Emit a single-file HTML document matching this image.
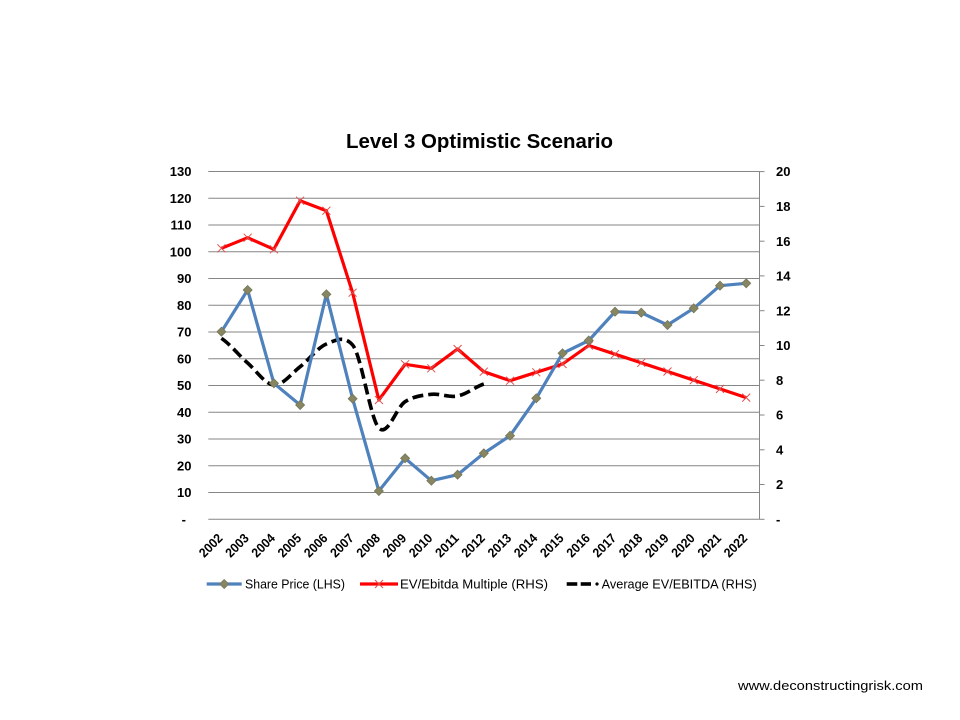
<!DOCTYPE html>
<html>
<head>
<meta charset="utf-8">
<style>
html,body{margin:0;padding:0;background:#fff;}
svg{display:block;}
text{font-family:"Liberation Sans",Arial,sans-serif;fill:#000;}
.ax{font-size:13px;font-weight:bold;}
.xl{font-size:13px;font-weight:bold;}
.lg{font-size:12.5px;}
</style>
</head>
<body>
<svg width="960" height="720" viewBox="0 0 960 720" xmlns="http://www.w3.org/2000/svg">
<rect width="960" height="720" fill="#fff"/>

<!-- Title -->
<text x="346" y="148" font-size="20" font-weight="bold" textLength="267" lengthAdjust="spacingAndGlyphs">Level 3 Optimistic Scenario</text>

<!-- Gridlines -->
<g stroke="#868686" stroke-width="1">
<line x1="208.3" y1="171.55" x2="759.5" y2="171.55"/>
<line x1="208.3" y1="198.3" x2="759.5" y2="198.3"/>
<line x1="208.3" y1="225.05" x2="759.5" y2="225.05"/>
<line x1="208.3" y1="251.8" x2="759.5" y2="251.8"/>
<line x1="208.3" y1="278.55" x2="759.5" y2="278.55"/>
<line x1="208.3" y1="305.3" x2="759.5" y2="305.3"/>
<line x1="208.3" y1="332.05" x2="759.5" y2="332.05"/>
<line x1="208.3" y1="358.8" x2="759.5" y2="358.8"/>
<line x1="208.3" y1="385.55" x2="759.5" y2="385.55"/>
<line x1="208.3" y1="412.3" x2="759.5" y2="412.3"/>
<line x1="208.3" y1="439.05" x2="759.5" y2="439.05"/>
<line x1="208.3" y1="465.8" x2="759.5" y2="465.8"/>
<line x1="208.3" y1="492.55" x2="759.5" y2="492.55"/>
<line x1="208.3" y1="519.3" x2="759.5" y2="519.3"/>
<!-- right axis -->
<line x1="759.5" y1="171.6" x2="759.5" y2="519.3"/>
<line x1="759.5" y1="171.6" x2="764.5" y2="171.6"/>
<line x1="759.5" y1="206.4" x2="764.5" y2="206.4"/>
<line x1="759.5" y1="241.2" x2="764.5" y2="241.2"/>
<line x1="759.5" y1="275.9" x2="764.5" y2="275.9"/>
<line x1="759.5" y1="310.7" x2="764.5" y2="310.7"/>
<line x1="759.5" y1="345.5" x2="764.5" y2="345.5"/>
<line x1="759.5" y1="380.2" x2="764.5" y2="380.2"/>
<line x1="759.5" y1="415.0" x2="764.5" y2="415.0"/>
<line x1="759.5" y1="449.8" x2="764.5" y2="449.8"/>
<line x1="759.5" y1="484.5" x2="764.5" y2="484.5"/>
<line x1="759.5" y1="519.3" x2="764.5" y2="519.3"/>
</g>

<!-- Left axis labels -->
<g class="ax" text-anchor="end">
<text x="191.5" y="176.2">130</text>
<text x="191.5" y="202.9">120</text>
<text x="191.5" y="229.7">110</text>
<text x="191.5" y="256.4">100</text>
<text x="191.5" y="283.2">90</text>
<text x="191.5" y="309.9">80</text>
<text x="191.5" y="336.7">70</text>
<text x="191.5" y="363.4">60</text>
<text x="191.5" y="390.2">50</text>
<text x="191.5" y="416.9">40</text>
<text x="191.5" y="443.7">30</text>
<text x="191.5" y="470.4">20</text>
<text x="191.5" y="497.2">10</text>
<text x="186" y="523.9">-</text>
</g>

<!-- Right axis labels -->
<g class="ax">
<text x="776" y="176.2">20</text>
<text x="776" y="211.0">18</text>
<text x="776" y="245.8">16</text>
<text x="776" y="280.5">14</text>
<text x="776" y="315.3">12</text>
<text x="776" y="350.1">10</text>
<text x="776" y="384.8">8</text>
<text x="776" y="419.6">6</text>
<text x="776" y="454.4">4</text>
<text x="776" y="489.1">2</text>
<text x="776" y="523.9">-</text>
</g>

<!-- X labels -->
<g class="xl" text-anchor="end">
<text transform="translate(223.4,539) rotate(-45)" textLength="27" lengthAdjust="spacingAndGlyphs">2002</text>
<text transform="translate(249.7,539) rotate(-45)" textLength="27" lengthAdjust="spacingAndGlyphs">2003</text>
<text transform="translate(275.9,539) rotate(-45)" textLength="27" lengthAdjust="spacingAndGlyphs">2004</text>
<text transform="translate(302.1,539) rotate(-45)" textLength="27" lengthAdjust="spacingAndGlyphs">2005</text>
<text transform="translate(328.4,539) rotate(-45)" textLength="27" lengthAdjust="spacingAndGlyphs">2006</text>
<text transform="translate(354.6,539) rotate(-45)" textLength="27" lengthAdjust="spacingAndGlyphs">2007</text>
<text transform="translate(380.9,539) rotate(-45)" textLength="27" lengthAdjust="spacingAndGlyphs">2008</text>
<text transform="translate(407.1,539) rotate(-45)" textLength="27" lengthAdjust="spacingAndGlyphs">2009</text>
<text transform="translate(433.3,539) rotate(-45)" textLength="27" lengthAdjust="spacingAndGlyphs">2010</text>
<text transform="translate(459.6,539) rotate(-45)" textLength="27" lengthAdjust="spacingAndGlyphs">2011</text>
<text transform="translate(485.8,539) rotate(-45)" textLength="27" lengthAdjust="spacingAndGlyphs">2012</text>
<text transform="translate(512.1,539) rotate(-45)" textLength="27" lengthAdjust="spacingAndGlyphs">2013</text>
<text transform="translate(538.3,539) rotate(-45)" textLength="27" lengthAdjust="spacingAndGlyphs">2014</text>
<text transform="translate(564.5,539) rotate(-45)" textLength="27" lengthAdjust="spacingAndGlyphs">2015</text>
<text transform="translate(590.8,539) rotate(-45)" textLength="27" lengthAdjust="spacingAndGlyphs">2016</text>
<text transform="translate(617.0,539) rotate(-45)" textLength="27" lengthAdjust="spacingAndGlyphs">2017</text>
<text transform="translate(643.3,539) rotate(-45)" textLength="27" lengthAdjust="spacingAndGlyphs">2018</text>
<text transform="translate(669.5,539) rotate(-45)" textLength="27" lengthAdjust="spacingAndGlyphs">2019</text>
<text transform="translate(695.7,539) rotate(-45)" textLength="27" lengthAdjust="spacingAndGlyphs">2020</text>
<text transform="translate(722.0,539) rotate(-45)" textLength="27" lengthAdjust="spacingAndGlyphs">2021</text>
<text transform="translate(748.2,539) rotate(-45)" textLength="27" lengthAdjust="spacingAndGlyphs">2022</text>
</g>

<!-- EV/Ebitda line -->
<polyline fill="none" stroke="#ff0000" stroke-width="3.2" stroke-linejoin="round" points="221.42,248.3 247.66,237.7 273.90,249.3 300.14,200.7 326.38,210.7 352.62,292.7 378.86,400 405.10,364.3 431.34,368.3 457.58,349 483.82,371.7 510.06,380.7 536.30,372.3 562.54,364 588.78,345.5 615.02,354.2 641.26,362.8 667.50,371.5 693.74,380.2 719.98,388.9 746.22,397.6"/>
<g stroke="#e05050" stroke-width="1" fill="none">
<path d="M217.4,244.3l8,8m0,-8l-8,8"/>
<path d="M243.7,233.7l8,8m0,-8l-8,8"/>
<path d="M269.9,245.3l8,8m0,-8l-8,8"/>
<path d="M296.1,196.7l8,8m0,-8l-8,8"/>
<path d="M322.4,206.7l8,8m0,-8l-8,8"/>
<path d="M348.6,288.7l8,8m0,-8l-8,8"/>
<path d="M374.9,396l8,8m0,-8l-8,8"/>
<path d="M401.1,360.3l8,8m0,-8l-8,8"/>
<path d="M427.3,364.3l8,8m0,-8l-8,8"/>
<path d="M453.6,345l8,8m0,-8l-8,8"/>
<path d="M479.8,367.7l8,8m0,-8l-8,8"/>
<path d="M506.1,376.7l8,8m0,-8l-8,8"/>
<path d="M532.3,368.3l8,8m0,-8l-8,8"/>
<path d="M558.5,360l8,8m0,-8l-8,8"/>
<path d="M584.8,341.5l8,8m0,-8l-8,8"/>
<path d="M611.0,350.2l8,8m0,-8l-8,8"/>
<path d="M637.3,358.8l8,8m0,-8l-8,8"/>
<path d="M663.5,367.5l8,8m0,-8l-8,8"/>
<path d="M689.7,376.2l8,8m0,-8l-8,8"/>
<path d="M716.0,384.9l8,8m0,-8l-8,8"/>
<path d="M742.2,393.6l8,8m0,-8l-8,8"/>
</g>

<!-- Average EV/EBITDA dashed smooth -->
<path fill="none" stroke="#000" stroke-width="3.6" stroke-dasharray="11 5" d="M221.42,338.3 C230.17,344.3 238.91,355.22 247.66,363 C256.41,370.78 265.15,384.38 273.90,385 C282.65,385.62 291.39,373.53 300.14,366.7 C308.89,359.87 317.63,347.62 326.38,344 C335.13,340.38 343.87,335 352.62,345 C361.37,355 370.11,418.55 378.86,428 C387.61,437.45 396.35,407.32 405.10,401.7 C413.85,396.08 422.59,395.25 431.34,394.3 C440.09,393.35 448.83,397.72 457.58,396 C466.33,394.28 475.07,387 483.82,384"/>

<!-- Share price line -->
<polyline fill="none" stroke="#4f81bd" stroke-width="3.2" stroke-linejoin="round" points="221.42,331.7 247.66,290 273.90,383.3 300.14,405 326.38,294.3 352.62,398.7 378.86,491 405.10,458.3 431.34,480.7 457.58,474.7 483.82,453.3 510.06,435.7 536.30,398.3 562.54,353.3 588.78,340.5 615.02,311.7 641.26,312.7 667.50,325 693.74,308.3 719.98,285.7 746.22,283.3"/>
<g fill="#868662" stroke="#77775a" stroke-width="0.8">
<path d="M221.42,327.2l4.5,4.5l-4.5,4.5l-4.5,-4.5z"/>
<path d="M247.66,285.5l4.5,4.5l-4.5,4.5l-4.5,-4.5z"/>
<path d="M273.90,378.8l4.5,4.5l-4.5,4.5l-4.5,-4.5z"/>
<path d="M300.14,400.5l4.5,4.5l-4.5,4.5l-4.5,-4.5z"/>
<path d="M326.38,289.8l4.5,4.5l-4.5,4.5l-4.5,-4.5z"/>
<path d="M352.62,394.2l4.5,4.5l-4.5,4.5l-4.5,-4.5z"/>
<path d="M378.86,486.5l4.5,4.5l-4.5,4.5l-4.5,-4.5z"/>
<path d="M405.10,453.8l4.5,4.5l-4.5,4.5l-4.5,-4.5z"/>
<path d="M431.34,476.2l4.5,4.5l-4.5,4.5l-4.5,-4.5z"/>
<path d="M457.58,470.2l4.5,4.5l-4.5,4.5l-4.5,-4.5z"/>
<path d="M483.82,448.8l4.5,4.5l-4.5,4.5l-4.5,-4.5z"/>
<path d="M510.06,431.2l4.5,4.5l-4.5,4.5l-4.5,-4.5z"/>
<path d="M536.30,393.8l4.5,4.5l-4.5,4.5l-4.5,-4.5z"/>
<path d="M562.54,348.8l4.5,4.5l-4.5,4.5l-4.5,-4.5z"/>
<path d="M588.78,336.0l4.5,4.5l-4.5,4.5l-4.5,-4.5z"/>
<path d="M615.02,307.2l4.5,4.5l-4.5,4.5l-4.5,-4.5z"/>
<path d="M641.26,308.2l4.5,4.5l-4.5,4.5l-4.5,-4.5z"/>
<path d="M667.50,320.5l4.5,4.5l-4.5,4.5l-4.5,-4.5z"/>
<path d="M693.74,303.8l4.5,4.5l-4.5,4.5l-4.5,-4.5z"/>
<path d="M719.98,281.2l4.5,4.5l-4.5,4.5l-4.5,-4.5z"/>
<path d="M746.22,278.8l4.5,4.5l-4.5,4.5l-4.5,-4.5z"/>
</g>

<!-- Legend -->
<line x1="206.7" y1="584" x2="241.7" y2="584" stroke="#4f81bd" stroke-width="3.2"/>
<path d="M224.2,579.5l4.5,4.5l-4.5,4.5l-4.5,-4.5z" fill="#868662" stroke="#77775a" stroke-width="0.8"/>
<text class="lg" x="245" y="588.5" textLength="100" lengthAdjust="spacingAndGlyphs">Share Price (LHS)</text>

<line x1="360" y1="584" x2="398" y2="584" stroke="#ff0000" stroke-width="3.2"/>
<path d="M375,580l8,8m0,-8l-8,8" stroke="#e05050" stroke-width="1" fill="none"/>
<text class="lg" x="400" y="588.5" textLength="148" lengthAdjust="spacingAndGlyphs">EV/Ebitda Multiple (RHS)</text>

<line x1="566.7" y1="584" x2="577.3" y2="584" stroke="#000" stroke-width="3.6"/>
<line x1="580.7" y1="584" x2="591" y2="584" stroke="#000" stroke-width="3.6"/>
<circle cx="597" cy="584" r="1.6" fill="#000"/>
<text class="lg" x="601.7" y="588.5" textLength="155" lengthAdjust="spacingAndGlyphs">Average EV/EBITDA (RHS)</text>

<!-- Watermark -->
<text x="738" y="690" font-size="13" textLength="185" lengthAdjust="spacingAndGlyphs">www.deconstructingrisk.com</text>
</svg>
</body>
</html>
